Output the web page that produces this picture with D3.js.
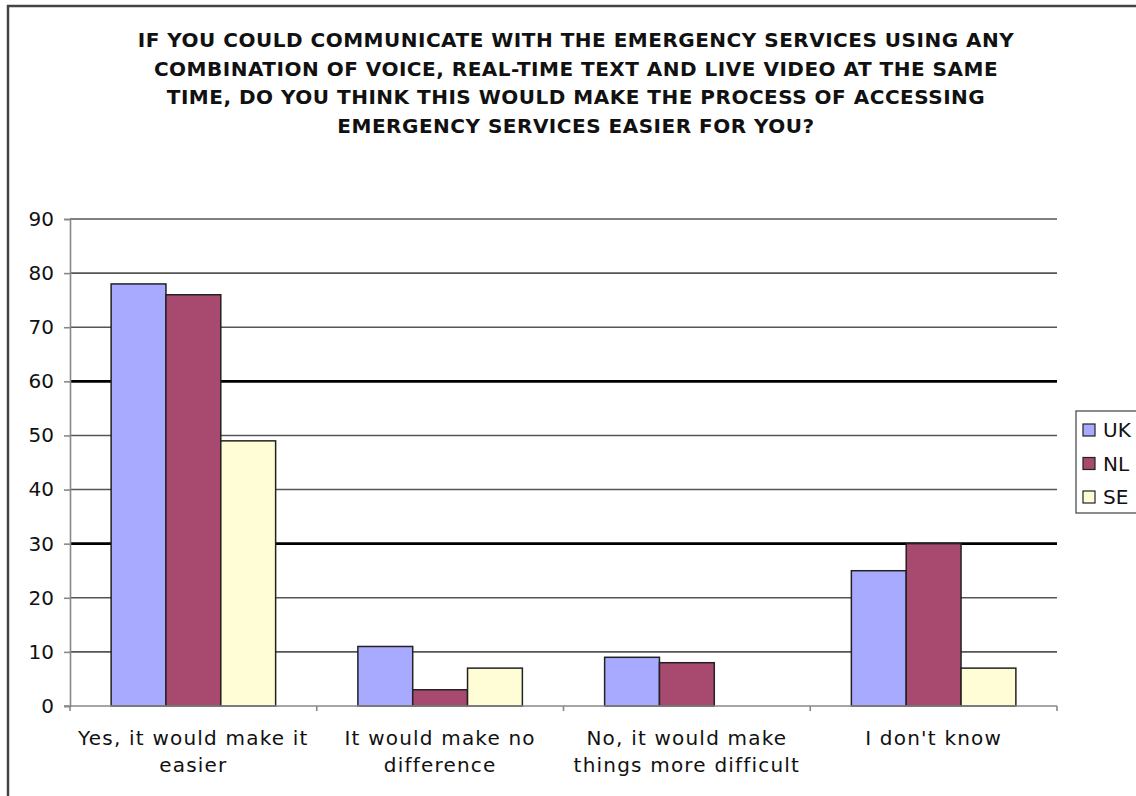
<!DOCTYPE html>
<html>
<head>
<meta charset="utf-8">
<script src="https://cdn.jsdelivr.net/npm/d3@7"></script>
<style>
  html, body { margin: 0; padding: 0; background: #fff; }
  svg { display: block; }
  text { font-family: "DejaVu Sans", Verdana, sans-serif; fill: #111; }
</style>
</head>
<body>
<svg id="chart" width="1136" height="796"></svg>
<script>
// Survey answers (percent of respondents) per country
const categories = [
  ["Yes, it would make it", "easier"],
  ["It would make no", "difference"],
  ["No, it would make", "things more difficult"],
  ["I don't know"]
];
const seriesNames = ["UK", "NL", "SE"];
const ukValues = [78, 11, 9, 25];
const nlValues = [76, 3, 8, 30];
const seValues = [49, 7, 0, 7];
const yTicks = [0, 10, 20, 30, 40, 50, 60, 70, 80, 90];
const titleLines = [
  "IF YOU COULD COMMUNICATE WITH THE EMERGENCY SERVICES USING ANY",
  "COMBINATION OF VOICE, REAL-TIME TEXT AND LIVE VIDEO AT THE SAME",
  "TIME, DO YOU THINK THIS WOULD MAKE THE PROCESS OF ACCESSING",
  "EMERGENCY SERVICES EASIER FOR YOU?"
];
const seriesColors = ["#a8aaff", "#a8496f", "#fffdd6"];

const seriesValues = [ukValues, nlValues, seValues];
const svg = d3.select("#chart");

// outer frame
svg.append("rect")
  .attr("x", 8).attr("y", 6)
  .attr("width", 1200).attr("height", 900)
  .attr("fill", "none").attr("stroke", "#444").attr("stroke-width", 2.5);

// title
const title = svg.append("text")
  .attr("text-anchor", "middle")
  .style("font-weight", "bold")
  .style("font-size", "20px")
  .style("letter-spacing", "0.5px");
titleLines.forEach((line, i) => {
  title.append("tspan").attr("x", 576).attr("y", 47 + i * 28.5).text(line);
});

const plot = { left: 70, right: 1057, top: 219, bottom: 706 };
const catIdx = d3.range(categories.length);

const x0 = d3.scaleBand().domain(catIdx).range([plot.left, plot.right]).padding(0);
const bw = x0.bandwidth();
const barW = bw / 4.5;             // 150% gap width
const x1 = d3.scaleBand().domain(d3.range(seriesNames.length))
  .range([barW * 0.75, bw - barW * 0.75]).padding(0);
const y = d3.scaleLinear().domain([0, 90]).range([plot.bottom, plot.top]);

// gridlines
svg.append("g").selectAll("line")
  .data(yTicks.filter(t => t > 0))
  .join("line")
  .attr("x1", plot.left).attr("x2", plot.right)
  .attr("y1", d => y(d)).attr("y2", d => y(d))
  .attr("stroke", d => (d === 60 || d === 30) ? "#000" : "#555")
  .attr("stroke-width", d => (d === 60 || d === 30) ? 2.6 : 1.6);

// y axis
const yAxis = svg.append("g")
  .attr("transform", `translate(${plot.left},0)`)
  .call(d3.axisLeft(y).tickValues(yTicks).tickSize(6).tickPadding(10));
yAxis.select(".domain").attr("stroke", "#888").attr("stroke-width", 1.6);
yAxis.selectAll(".tick line").attr("stroke", "#888").attr("stroke-width", 1.6);
yAxis.selectAll(".tick text")
  .style("font-size", "20px").style("font-family", "DejaVu Sans, sans-serif")
  .attr("fill", "#222");

// bars
const groups = svg.append("g").selectAll("g")
  .data(catIdx).join("g")
  .attr("transform", d => `translate(${x0(d)},0)`);
groups.selectAll("rect")
  .data(c => seriesValues.map((vals, s) => ({ s, v: vals[c] })).filter(d => d.v > 0))
  .join("rect")
  .attr("x", d => x1(d.s))
  .attr("width", x1.bandwidth())
  .attr("y", d => y(d.v))
  .attr("height", d => y(0) - y(d.v))
  .attr("fill", d => seriesColors[d.s])
  .attr("stroke", "#222").attr("stroke-width", 1.5);

// x axis with category boundary ticks
const xAxisG = svg.append("g");
xAxisG.append("line")
  .attr("x1", plot.left - 6).attr("x2", plot.right)
  .attr("y1", y(0)).attr("y2", y(0))
  .attr("stroke", "#888").attr("stroke-width", 1.6);
xAxisG.selectAll("line.tk")
  .data(d3.range(categories.length + 1))
  .join("line").attr("class", "tk")
  .attr("x1", d => plot.left + d * bw).attr("x2", d => plot.left + d * bw)
  .attr("y1", y(0)).attr("y2", y(0) + 5)
  .attr("stroke", "#888").attr("stroke-width", 1.6);

// category labels
const catText = svg.append("g").selectAll("text")
  .data(catIdx).join("text")
  .attr("text-anchor", "middle")
  .style("font-size", "20px")
  .style("letter-spacing", "1.2px")
  .attr("fill", "#222");
catText.each(function (c) {
  const t = d3.select(this);
  categories[c].forEach((line, i) => {
    t.append("tspan")
      .attr("x", x0(c) + bw / 2)
      .attr("y", 745 + i * 27)
      .text(line);
  });
});

// legend
const legend = svg.append("g");
legend.append("rect")
  .attr("x", 1076).attr("y", 411).attr("width", 80).attr("height", 102)
  .attr("fill", "#fff").attr("stroke", "#666").attr("stroke-width", 1.5);
const li = legend.selectAll("g.item")
  .data(seriesNames).join("g").attr("class", "item")
  .attr("transform", (d, i) => `translate(1083,${430 + i * 33.5})`);
li.append("rect")
  .attr("x", 0).attr("y", -6).attr("width", 12).attr("height", 12)
  .attr("fill", (d, i) => seriesColors[i])
  .attr("stroke", "#222").attr("stroke-width", 1.2);
li.append("text")
  .attr("x", 20).attr("y", 7)
  .style("font-size", "20px")
  .attr("fill", "#111")
  .text(d => d);
</script>
</body>
</html>
